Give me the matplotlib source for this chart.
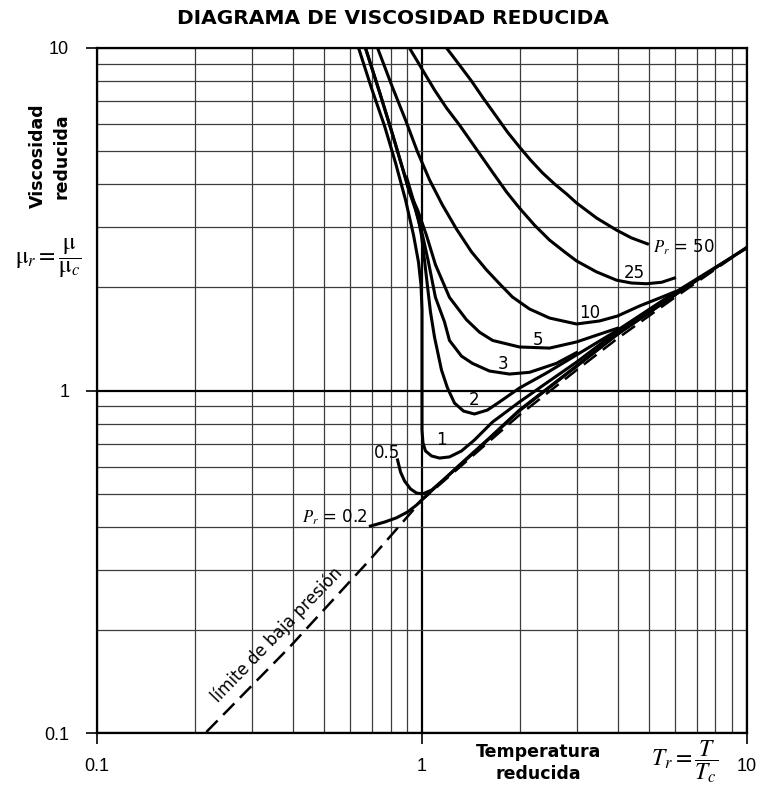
import matplotlib
matplotlib.use('Agg')
import matplotlib.pyplot as plt

plt.rcParams['mathtext.fontset'] = 'stix'
plt.rcParams['font.family'] = ['DejaVu Sans']

p50_tr = [1.19, 1.304, 1.42, 1.535, 1.672, 1.833, 1.995, 2.157, 2.348, 2.557, 2.784, 2.988, 3.443, 3.967, 4.41, 4.94]
p50_mu = [10.0, 8.92, 8.01, 7.19, 6.42, 5.68, 5.14, 4.71, 4.32, 4.01, 3.75, 3.53, 3.19, 2.94, 2.79, 2.68]

p25_tr = [0.915, 0.996, 1.093, 1.19, 1.304, 1.461, 1.648, 1.82, 1.995, 2.219, 2.468, 2.745, 2.988, 3.443, 3.967, 4.41, 4.907, 5.46, 5.983]
p25_mu = [10.0, 8.74, 7.54, 6.68, 5.96, 5.11, 4.34, 3.80, 3.41, 3.04, 2.75, 2.54, 2.39, 2.22, 2.10, 2.06, 2.05, 2.07, 2.13]

p10_tr = [0.73, 0.806, 0.89, 0.969, 1.055, 1.156, 1.277, 1.42, 1.579, 1.732, 1.898, 2.142, 2.468, 2.988, 3.517, 3.995, 4.67, 5.381, 5.983]
p10_mu = [10.0, 7.80, 6.16, 4.97, 4.12, 3.48, 2.96, 2.54, 2.25, 2.05, 1.875, 1.73, 1.628, 1.564, 1.596, 1.65, 1.765, 1.862, 1.94]

p5_tr = [0.67, 0.74, 0.811, 0.871, 0.915, 0.969, 1.032, 1.10, 1.215, 1.37, 1.503, 1.65, 1.995, 2.468, 2.988, 3.517, 3.995]
p5_mu = [10.0, 7.44, 5.61, 4.46, 3.80, 3.37, 2.84, 2.33, 1.87, 1.61, 1.48, 1.40, 1.34, 1.33, 1.386, 1.46, 1.52]

p3_tr = [0.67, 0.74, 0.811, 0.871, 0.915, 0.955, 1.004, 1.047, 1.10, 1.173, 1.215, 1.323, 1.43, 1.613, 1.858, 2.142, 2.59, 2.988]
p3_mu = [10.0, 7.44, 5.61, 4.46, 3.80, 3.37, 2.84, 2.37, 1.87, 1.585, 1.40, 1.26, 1.20, 1.14, 1.117, 1.13, 1.20, 1.29]

p2_tr = [0.896, 0.942, 0.9755, 0.996, 1.018, 1.04, 1.062, 1.093, 1.148, 1.198, 1.259, 1.342, 1.45, 1.59, 1.732,
         1.995, 2.416, 2.988, 3.995, 5.983, 10.0]
p2_mu = [4.20, 3.58, 3.15, 2.84, 2.40, 2.01, 1.695, 1.43, 1.148, 1.017, 0.919, 0.871, 0.854, 0.877, 0.926,
         1.017, 1.125, 1.27, 1.50, 1.93, 2.61]

p1_tr = [0.638, 0.699, 0.767, 0.829, 0.89, 0.942, 0.9755, 0.993, 1.0, 1.0, 1.007, 1.025, 1.07, 1.132, 1.215,
         1.323, 1.45, 1.648, 1.995, 2.416, 2.988, 3.995, 5.983]
p1_mu = [10.0, 7.64, 5.92, 4.62, 3.60, 2.84, 2.37, 2.03, 1.72, 0.767, 0.703, 0.666, 0.644, 0.635, 0.64,
         0.666, 0.717, 0.809, 0.926, 1.052, 1.21, 1.49, 1.91]

p05_tr = [0.841, 0.859, 0.884, 0.922, 0.962, 1.004, 1.07, 1.173, 1.304, 1.613, 1.995, 2.988, 3.995, 5.983]
p05_mu = [0.627, 0.578, 0.544, 0.516, 0.502, 0.499, 0.512, 0.552, 0.606, 0.727, 0.877, 1.179, 1.462, 1.90]

p02_tr = [0.694, 0.767, 0.835, 0.903, 0.962, 1.004, 1.173, 1.5, 2.0, 3.0, 4.0, 6.0, 8.0, 10.0]
p02_mu = [0.402, 0.413, 0.425, 0.442, 0.463, 0.482, 0.552, 0.68, 0.875, 1.18, 1.46, 1.90, 2.28, 2.62]

# limite de baja presion
lim_tr = [0.217, 0.391, 0.69, 1.0, 2.0, 3.0, 4.0, 6.0, 10.0]
lim_mu = [0.1007, 0.178, 0.32, 0.479, 0.85, 1.15, 1.42, 1.87, 2.62]

curves = [(p50_tr, p50_mu), (p25_tr, p25_mu), (p10_tr, p10_mu), (p5_tr, p5_mu),
          (p3_tr, p3_mu), (p2_tr, p2_mu), (p1_tr, p1_mu), (p05_tr, p05_mu),
          (p02_tr, p02_mu)]

# etiquetas de las curvas
labels = ['$P_r$ = 50', '25', '10', '5', '3', '2', '1', '0.5', '$P_r$ = 0.2']
label_tr = [5.12, 4.51, 3.28, 2.28, 1.77, 1.45, 1.148, 0.783, 0.681]
label_mu = [2.62, 2.20, 1.68, 1.40, 1.195, 0.938, 0.717, 0.657, 0.427]
label_ha = ['left', 'center', 'center', 'center', 'center', 'center', 'center', 'center', 'right']

fig = plt.figure(figsize=(7.62, 7.96), dpi=100)
ax = fig.add_axes([0.1273, 0.0791, 0.853, 0.8606])
ax.set_xscale('log')
ax.set_yscale('log')
ax.set_xlim(0.1, 10)
ax.set_ylim(0.1, 10)

ax.grid(which='minor', color='#3c3c3c', lw=0.9)
ax.grid(which='major', color='black', lw=1.6)
ax.set_axisbelow(True)

for tr, mu in curves:
    ax.plot(tr, mu, color='black', lw=2.2, solid_joinstyle='round', zorder=3)

line, = ax.plot(lim_tr, lim_mu, color='black', lw=1.8, zorder=3)
line.set_dashes((6.4, 3.2))

for txt, x, y, ha in zip(labels, label_tr, label_mu, label_ha):
    ax.text(x, y, txt, ha=ha, va='center', fontsize=12, zorder=4)

ax.text(0.357, 0.1935, 'límite de baja presión', rotation=46, ha='center', va='center',
        fontsize=12, rotation_mode='anchor')

ax.set_xticks([0.1, 1, 10], ['0.1', '1', '10'], fontsize=13, family='Liberation Sans')
ax.set_yticks([0.1, 1, 10], ['0.1', '1', '10'], fontsize=13, family='Liberation Sans')
ax.tick_params(which='minor', length=0)
ax.tick_params(which='major', length=8, width=1.2, direction='out')
ax.tick_params(axis='x', pad=10)
ax.tick_params(axis='y', pad=12)
for s in ax.spines.values():
    s.set_linewidth(1.6)

fig.text(0.516, 0.977, 'DIAGRAMA DE VISCOSIDAD REDUCIDA', ha='center', va='center',
         fontsize=14.5, fontweight='bold')
fig.text(0.0656, 0.804, 'Viscosidad\nreducida', rotation=90, ha='center', va='center',
         fontsize=12.5, fontweight='bold', linespacing=1.4)
fig.text(0.063, 0.676, r'$\mathrm{\mu}_r = \dfrac{\mathrm{\mu}}{\mathrm{\mu}_c}$',
         ha='center', va='center', fontsize=17)
fig.text(0.707, 0.041, 'Temperatura\nreducida', ha='center', va='center',
         fontsize=12.5, fontweight='bold', linespacing=1.3)
fig.text(0.899, 0.0427, r'$T_r = \dfrac{T}{T_c}$', ha='center', va='center', fontsize=17)

fig.savefig('out.png', dpi=100)
